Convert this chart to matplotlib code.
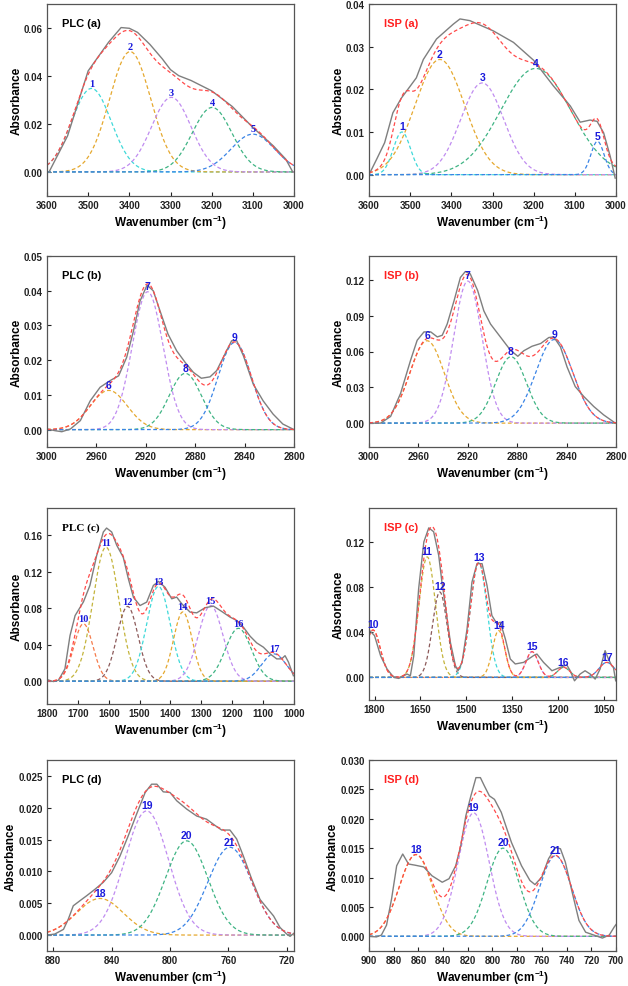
import numpy as np
import matplotlib
matplotlib.use('Agg')
from matplotlib import pyplot as plt
from matplotlib.ticker import FormatStrFormatter

plt.rcParams['font.family'] = ['Liberation Sans', 'DejaVu Sans']
plt.rcParams['mathtext.fontset'] = 'custom'
plt.rcParams['mathtext.rm'] = 'Liberation Sans:bold'
plt.rcParams['mathtext.default'] = 'rm'

# ---- PLC (a) ----
plc_a_wn = [3595, 3550, 3500, 3450, 3420, 3400, 3380, 3350, 3320, 3300, 3280, 3250,
            3200, 3150, 3100, 3050, 3020, 3003]
plc_a_abs = [0.0, 0.015, 0.042, 0.054, 0.060, 0.0597, 0.058, 0.053, 0.047, 0.0425, 0.040,
             0.038, 0.0337, 0.0272, 0.0185, 0.0108, 0.0053, 0.0]
plc_a_center = [3492, 3398, 3298, 3199, 3100]
plc_a_height = [0.0347, 0.050, 0.031, 0.0268, 0.0157]
plc_a_width = [48, 50, 48, 48, 53]
plc_a_num = ['1', '2', '3', '4', '5']

# ---- ISP (a) ----
isp_a_wn = [3600, 3582, 3562, 3542, 3521, 3501, 3485, 3468, 3436, 3395, 3379, 3355, 3298,
            3249, 3200, 3152, 3111, 3087, 3063, 3046, 3030, 3014, 3002]
isp_a_abs = [0.0, 0.0035, 0.0075, 0.0145, 0.018, 0.0206, 0.0227, 0.027, 0.0318, 0.0353,
             0.0365, 0.0361, 0.0337, 0.031, 0.0268, 0.0208, 0.0161, 0.0123, 0.0128,
             0.0125, 0.0098, 0.0043, -0.0008]
isp_a_center = [3520, 3428, 3325, 3195, 3045]
isp_a_height = [0.0100, 0.0270, 0.0215, 0.0249, 0.0078]
isp_a_width = [21, 60, 52, 85, 16]
isp_a_num = ['1', '2', '3', '4', '5']

# ---- PLC (b) ----
plc_b_wn = [3000, 2993.5, 2988, 2981, 2973, 2965, 2957, 2949, 2942, 2935.5, 2930, 2924.7,
            2919, 2914, 2908.5, 2902, 2895, 2888, 2881.5, 2875, 2868, 2862.6, 2856,
            2850.5, 2846.4, 2841, 2833, 2825, 2817, 2809, 2800.5]
plc_b_abs = [0.0002, -0.0003, -0.0006, 0.0002, 0.0026, 0.0083, 0.0122, 0.0141, 0.0155,
             0.0208, 0.0284, 0.037, 0.0416, 0.040, 0.0342, 0.0275, 0.0227, 0.0193,
             0.0165, 0.0148, 0.0152, 0.017, 0.0217, 0.0256, 0.0256, 0.0213, 0.0131,
             0.0083, 0.0045, 0.0016, 0.0001]
plc_b_center = [2950, 2918.5, 2888, 2848]
plc_b_height = [0.0113, 0.0397, 0.0162, 0.0251]
plc_b_width = [15, 12.5, 13, 13.5]
plc_b_num = ['6', '7', '8', '9']

# ---- ISP (b) ----
isp_b_wn = [3000, 2990.6, 2982.5, 2974.4, 2966.3, 2961, 2955.5, 2950, 2944.7, 2940.7,
            2936.7, 2931, 2926, 2922, 2918, 2912, 2907, 2901.6, 2893.5, 2885.4, 2879.5,
            2874.7, 2868, 2861, 2854.4, 2850.4, 2845, 2839.6, 2833, 2826, 2818, 2810,
            2800.5]
isp_b_abs = [0.0, 0.0, 0.0056, 0.025, 0.0528, 0.0694, 0.0764, 0.0764, 0.0722, 0.0736,
             0.083, 0.103, 0.122, 0.127, 0.125, 0.111, 0.094, 0.083, 0.072, 0.061,
             0.056, 0.0606, 0.0644, 0.0667, 0.0717, 0.0722, 0.0639, 0.047, 0.0306,
             0.0222, 0.0139, 0.0069, 0.0]
isp_b_center = [2953, 2920, 2885, 2850]
isp_b_height = [0.069, 0.119, 0.0556, 0.070]
isp_b_width = [14, 11.5, 12.5, 15]
isp_b_num = ['6', '7', '8', '9']

# ---- PLC (c) ----
plc_c_wn = [1800, 1779.5, 1763, 1742, 1725.5, 1709, 1682, 1661, 1639, 1617.5, 1607, 1590.5,
            1574, 1553, 1536.5, 1520, 1498.7, 1477, 1455.5, 1439, 1417.7, 1396, 1380,
            1363.7, 1336.7, 1315, 1288, 1261, 1234, 1207, 1185.5, 1164, 1142.3, 1120.7,
            1099, 1077.5, 1056, 1040, 1029, 1018, 1002]
plc_c_abs = [0.0018, -0.0004, 0.001, 0.0135, 0.050, 0.072, 0.087, 0.105, 0.138, 0.1637,
             0.168, 0.1637, 0.149, 0.136, 0.1124, 0.092, 0.083, 0.0868, 0.105, 0.1095,
             0.103, 0.0904, 0.0923, 0.085, 0.0758, 0.075, 0.0806, 0.0824, 0.0765,
             0.0703, 0.0666, 0.0593, 0.0494, 0.042, 0.0373, 0.030, 0.0245, 0.0245,
             0.028, 0.021, 0.006]
plc_c_center = [1682, 1609, 1539, 1439, 1360, 1270, 1180, 1065]
plc_c_height = [0.063, 0.147, 0.082, 0.104, 0.076, 0.083, 0.058, 0.030]
plc_c_width = [31, 42, 34, 38, 30, 40, 42, 40]
plc_c_num = ['10', '11', '12', '13', '14', '15', '16', '17']

# ---- ISP (c) ----
isp_c_wn = [1816, 1800, 1780, 1759, 1737, 1721, 1704, 1694, 1683, 1672, 1656, 1639, 1623,
            1607, 1590.5, 1580, 1569, 1552.4, 1536, 1527.5, 1514.4, 1498, 1482, 1465.6,
            1449, 1433, 1417, 1400.4, 1389.6, 1373, 1357, 1340.7, 1313.6, 1281, 1270,
            1248.4, 1221, 1194, 1172.4, 1161.6, 1147.4, 1129, 1113, 1096.4, 1080, 1064,
            1047.6, 1036.7, 1026, 1020.4, 1013]
isp_c_abs = [0.0415, 0.037, 0.019, 0.0074, 0.0, -0.0009, 0.0015, 0.003, 0.0015, 0.019,
             0.0785, 0.120, 0.1324, 0.129, 0.108, 0.0844, 0.0637, 0.031, 0.0104, 0.0059,
             0.0133, 0.043, 0.0844, 0.1007, 0.1007, 0.0815, 0.0548, 0.0474, 0.0489,
             0.034, 0.0163, 0.0119, 0.0133, 0.0193, 0.0207, 0.0133, 0.0059, 0.0089,
             0.011, 0.0059, -0.003, 0.003, 0.0059, 0.003, -0.0015, 0.0074, 0.0237,
             0.0163, 0.0104, 0.0089, -0.003]
isp_c_center = [1805, 1628, 1587, 1460, 1395, 1286, 1183, 1042]
isp_c_height = [0.042, 0.1067, 0.0756, 0.1016, 0.0415, 0.0228, 0.0089, 0.0133]
isp_c_width = [24, 27, 24, 27, 20, 20, 20, 25]
isp_c_num = ['10', '11', '12', '13', '14', '15', '16', '17']

# ---- PLC (d) ----
plc_d_wn = [884.3, 879, 873, 869.7, 866.3, 861.7, 857, 851.4, 845.7, 840, 834.3, 828.6,
            822.9, 817, 812.6, 809, 804.6, 800, 795.4, 788.6, 781.7, 774.9, 769, 764.6,
            758.9, 754.3, 749.7, 744, 738.3, 733.7, 729, 724.6, 720, 717.7, 715]
plc_d_abs = [0.0, 0.00016, 0.0009, 0.0025, 0.0046, 0.0054, 0.0062, 0.0072, 0.0083,
             0.0098, 0.0124, 0.0156, 0.019, 0.0224, 0.0237, 0.0237, 0.0225, 0.0224,
             0.0211, 0.0198, 0.0187, 0.0182, 0.0172, 0.0165, 0.0165, 0.0151, 0.0124,
             0.0088, 0.0056, 0.0043, 0.003, 0.0012, 0.00016, -0.0002, 0.0003]
plc_d_center = [848, 816, 788.6, 759]
plc_d_height = [0.00575, 0.0195, 0.0148, 0.0138]
plc_d_width = [16, 15, 14.5, 15]
plc_d_num = ['18', '19', '20', '21']

# ---- ISP (d) ----
isp_d_wn = [900, 894, 890, 885.8, 881.7, 877.6, 872.7, 868, 862.6, 855.7, 849, 840.7,
            835.2, 829.8, 825.7, 821.6, 817.5, 813.4, 809.8, 806.6, 802.5, 798.4, 792.9,
            784.7, 776.5, 769.7, 765.6, 760, 754.6, 749, 745, 741, 735.5, 730, 724.6,
            717.8, 711, 705.5, 701.4, 700]
isp_d_abs = [0.0, -0.0001, 0.0002, 0.0019, 0.0064, 0.012, 0.014, 0.0123, 0.0121, 0.0118,
             0.0103, 0.0092, 0.0098, 0.012, 0.0154, 0.0205, 0.0239, 0.027, 0.027,
             0.0256, 0.0239, 0.0233, 0.0211, 0.016, 0.012, 0.0095, 0.0088, 0.0101,
             0.0132, 0.0151, 0.0149, 0.0126, 0.0075, 0.0027, 0.0007, 0.0002, -0.0003,
             0.0002, 0.0016, 0.002]
isp_d_center = [862, 815.3, 791.5, 749]
isp_d_height = [0.0139, 0.021, 0.015, 0.0137]
isp_d_width = [13.5, 12.5, 13, 13]
isp_d_num = ['18', '19', '20', '21']

CYAN = '#3fd9d9'
ORANGE = '#e5a82e'
VIOLET = '#c08cf0'
GREEN = '#3fb484'
BLUE = '#3a84e6'
OLIVE = '#c4b43c'
BROWN = '#8c5a5a'
ORED = '#f57a4a'
FIT = '#ff4a4a'
MEAS = '#7f7f7f'


def draw_panel(ax, wn, ab, centers, heights, widths, nums, colors, xlim, ylim,
               xticks, yticks, yfmt, title, title_color, serif_title=False, serif_nums=False):
    grid = np.linspace(xlim[0], xlim[1], 800)
    total = np.zeros_like(grid)
    for c, h, w, col in zip(centers, heights, widths, colors):
        g = h * np.exp(-0.5 * ((grid - c) / w) ** 2)
        total += g
        ax.plot(grid, g, color=col, lw=0.9, dashes=(3, 2))
    ax.plot(wn, ab, color=MEAS, lw=1.0)
    ax.plot(grid, total, color=FIT, lw=0.9, dashes=(3, 2))
    numfam = 'Liberation Serif' if serif_nums else 'Liberation Sans'
    for c, h, n in zip(centers, heights, nums):
        ax.annotate(n, (c, h), xytext=(0, 0.5), textcoords='offset points',
                    ha='center', va='bottom', color='#1a1adc', fontsize=7.5,
                    fontweight='bold', family=numfam)
    ax.set_xlim(xlim)
    ax.set_ylim(ylim)
    ax.set_xticks(xticks)
    ax.set_yticks(yticks)
    ax.yaxis.set_major_formatter(FormatStrFormatter(yfmt))
    ax.tick_params(direction='in', length=3, width=0.8, labelsize=7, pad=3,
                   colors='#222222')
    for lab in ax.get_xticklabels() + ax.get_yticklabels():
        lab.set_fontweight('bold')
    for s in ax.spines.values():
        s.set_color('#555555')
        s.set_linewidth(0.9)
    ax.set_xlabel('Wavenumber (cm$^{-1}$)', fontsize=8.5, fontweight='bold', labelpad=2)
    ax.set_ylabel('Absorbance', fontsize=8.5, fontweight='bold', labelpad=1)
    tfam = 'Liberation Serif' if serif_title else 'Liberation Sans'
    ax.text(0.06, 0.90, title, transform=ax.transAxes, color=title_color, fontsize=8,
            fontweight='bold', family=tfam, ha='left', va='center')


fig = plt.figure(figsize=(6.28, 9.87), dpi=100)
W, H = 628.0, 987.0


def make_ax(left, top, right, bottom):
    return fig.add_axes([left / W, 1 - bottom / H, (right - left) / W, (bottom - top) / H])


ax1 = make_ax(47, 4.5, 294, 197)
ax2 = make_ax(369, 5, 616, 197)
ax3 = make_ax(47, 257, 294, 448)
ax4 = make_ax(369, 257, 616, 448)
ax5 = make_ax(47, 509, 294, 705)
ax6 = make_ax(369, 509, 616, 701)
ax7 = make_ax(47, 761, 294, 952)
ax8 = make_ax(369, 761, 616, 952)

five = [CYAN, ORANGE, VIOLET, GREEN, BLUE]
four = [ORANGE, VIOLET, GREEN, BLUE]
eight = [ORED, OLIVE, BROWN, CYAN, ORANGE, VIOLET, GREEN, BLUE]

draw_panel(ax1, plc_a_wn, plc_a_abs, plc_a_center, plc_a_height, plc_a_width, plc_a_num,
           five, (3600, 3000), (-0.01, 0.07), np.arange(3600, 2999, -100),
           [0, 0.02, 0.04, 0.06], '%.2f', 'PLC (a)', 'black', serif_nums=True)
draw_panel(ax2, isp_a_wn, isp_a_abs, isp_a_center, isp_a_height, isp_a_width, isp_a_num,
           five, (3600, 3000), (-0.005, 0.04), np.arange(3600, 2999, -100),
           [0, 0.01, 0.02, 0.03, 0.04], '%.2f', 'ISP (a)', '#ff2020')
draw_panel(ax3, plc_b_wn, plc_b_abs, plc_b_center, plc_b_height, plc_b_width, plc_b_num,
           four, (3000, 2800), (-0.005, 0.05), np.arange(3000, 2799, -40),
           [0, 0.01, 0.02, 0.03, 0.04, 0.05], '%.2f', 'PLC (b)', 'black')
draw_panel(ax4, isp_b_wn, isp_b_abs, isp_b_center, isp_b_height, isp_b_width, isp_b_num,
           four, (3000, 2800), (-0.02, 0.14), np.arange(3000, 2799, -40),
           [0, 0.03, 0.06, 0.09, 0.12], '%.2f', 'ISP (b)', '#ff2020')
draw_panel(ax5, plc_c_wn, plc_c_abs, plc_c_center, plc_c_height, plc_c_width, plc_c_num,
           eight, (1800, 1000), (-0.025, 0.19), np.arange(1800, 999, -100),
           [0, 0.04, 0.08, 0.12, 0.16], '%.2f', 'PLC (c)', 'black',
           serif_title=True, serif_nums=True)
draw_panel(ax6, isp_c_wn, isp_c_abs, isp_c_center, isp_c_height, isp_c_width, isp_c_num,
           eight, (1818, 1012), (-0.02, 0.15), [1800, 1650, 1500, 1350, 1200, 1050],
           [0, 0.04, 0.08, 0.12], '%.2f', 'ISP (c)', '#ff2020')
draw_panel(ax7, plc_d_wn, plc_d_abs, plc_d_center, plc_d_height, plc_d_width, plc_d_num,
           four, (884.3, 715), (-0.0025, 0.0275), np.arange(880, 719, -40),
           [0, 0.005, 0.01, 0.015, 0.02, 0.025], '%.3f', 'PLC (d)', 'black')
draw_panel(ax8, isp_d_wn, isp_d_abs, isp_d_center, isp_d_height, isp_d_width, isp_d_num,
           four, (900, 700), (-0.0025, 0.030), np.arange(900, 699, -20),
           [0, 0.005, 0.01, 0.015, 0.02, 0.025, 0.03], '%.3f', 'ISP (d)', '#ff2020')

fig.savefig('out.png', dpi=100)
